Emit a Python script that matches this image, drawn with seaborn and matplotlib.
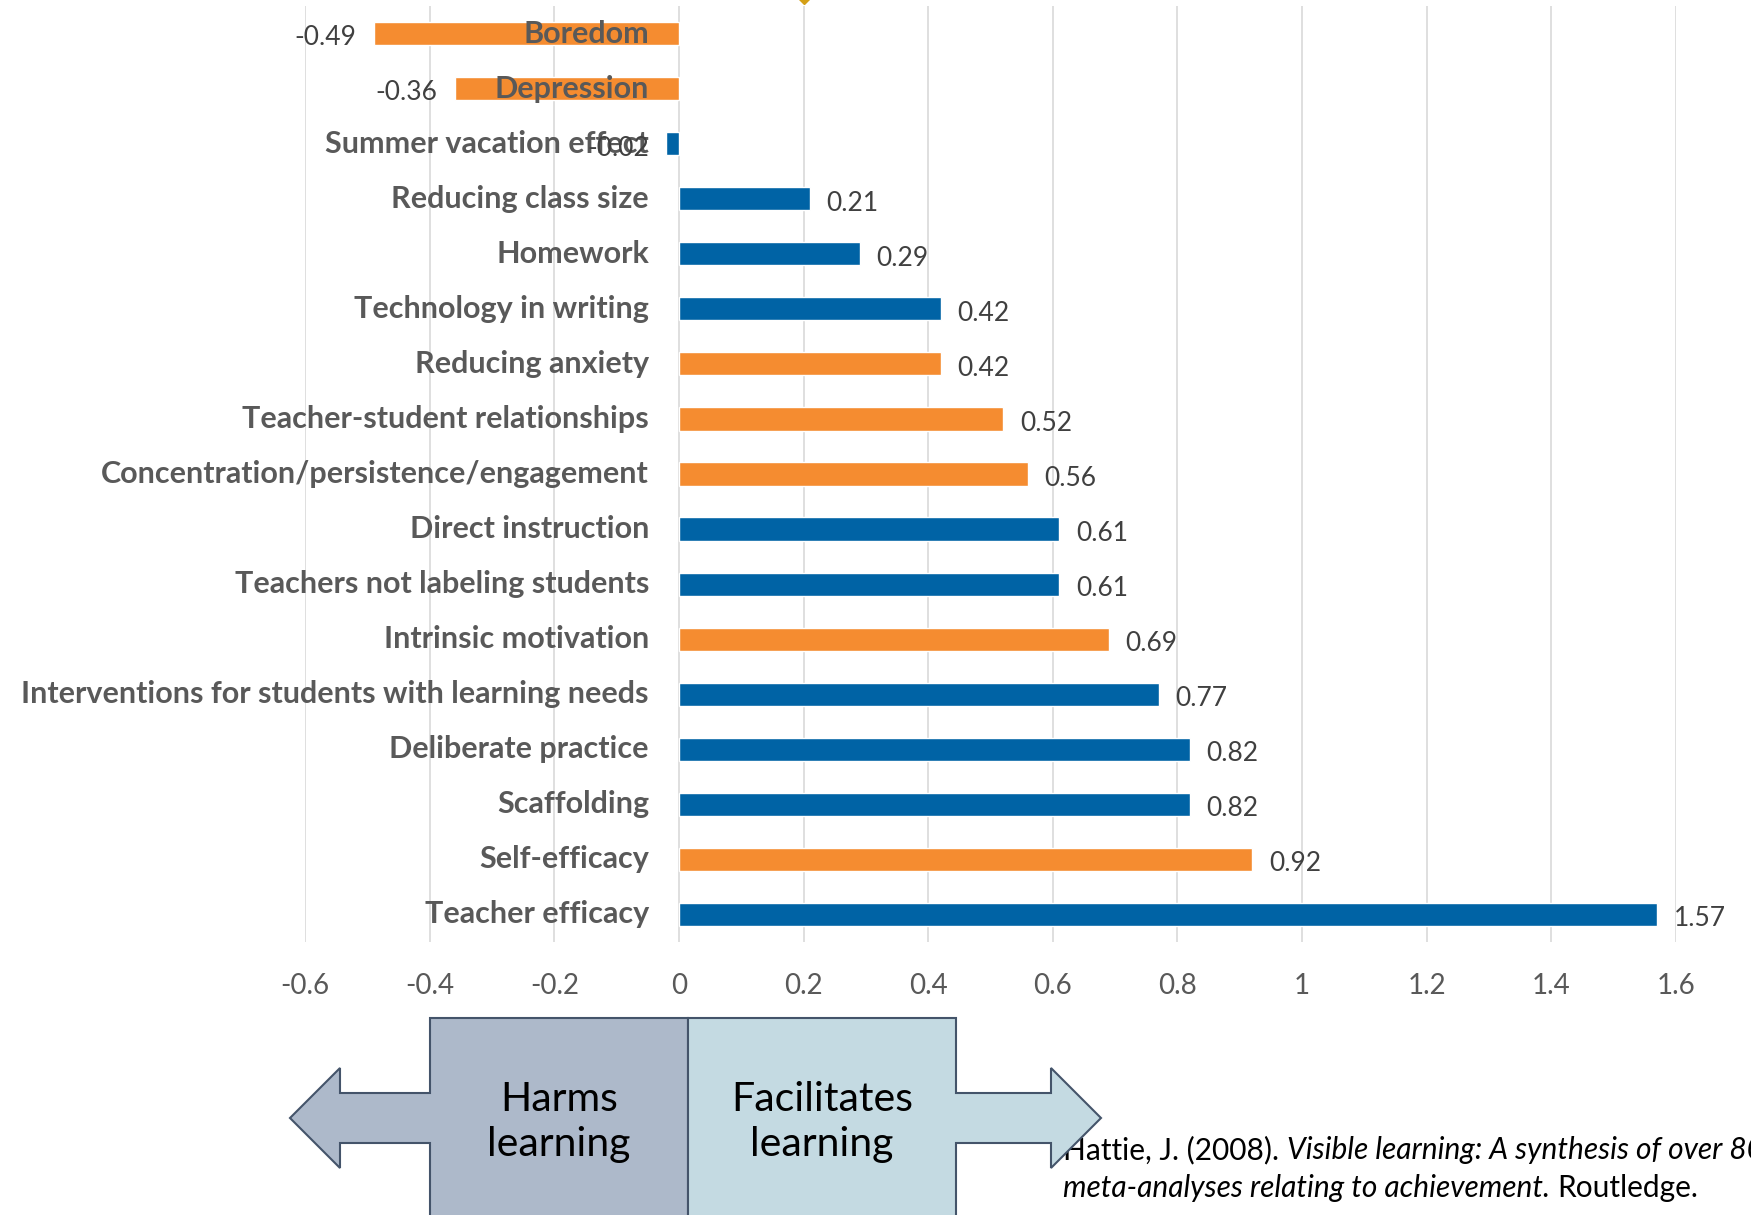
import matplotlib.pyplot as plt
import matplotlib.patches as mpatches
import pandas as pd
import seaborn as sns

factors = [
    "Boredom", "Depression", "Summer vacation effect", "Reducing class size",
    "Homework", "Technology in writing", "Reducing anxiety",
    "Teacher-student relationships", "Concentration/persistence/engagement",
    "Direct instruction", "Teachers not labeling students",
    "Intrinsic motivation", "Interventions for students with learning needs",
    "Deliberate practice", "Scaffolding", "Self-efficacy", "Teacher efficacy",
]
effect_sizes = [-0.49, -0.36, -0.02, 0.21, 0.29, 0.42, 0.42, 0.52, 0.56,
                0.61, 0.61, 0.69, 0.77, 0.82, 0.82, 0.92, 1.57]
groups = ["emotion", "emotion", "school", "school", "school", "school",
          "emotion", "emotion", "emotion", "school", "school", "emotion",
          "school", "school", "school", "emotion", "school"]
x_ticks = [-0.6, -0.4, -0.2, 0, 0.2, 0.4, 0.6, 0.8, 1, 1.2, 1.4, 1.6]
tick_labels = ["-0.6", "-0.4", "-0.2", "0", "0.2", "0.4", "0.6", "0.8",
               "1", "1.2", "1.4", "1.6"]
palette = {"emotion": "#F58C30", "school": "#0063A5"}

W, H = 1751, 1215


def main():
    sns.set_style("white")
    plt.rcParams["font.family"] = ["Lato", "DejaVu Sans"]

    df = pd.DataFrame({"factor": factors, "effect": effect_sizes, "group": groups})

    fig = plt.figure(figsize=(W / 100, H / 100), dpi=100)
    ax = fig.add_axes([305 / W, 1 - 942 / H, (1676 - 305) / W, 936 / H])

    sns.barplot(df, x="effect", y="factor", hue="group", palette=palette,
                order=factors, dodge=False, width=0.42, saturation=1,
                legend=False, ax=ax, zorder=2)

    ax.set_xlim(-0.6, 1.6)
    ax.set_ylim(16.5, -0.5)
    ax.set_xticks(x_ticks)
    ax.set_xticklabels(tick_labels, fontsize=20, color="#595959")
    ax.tick_params(axis="x", length=0, pad=22)
    ax.set_yticks([])
    ax.set_xlabel("")
    ax.set_ylabel("")
    ax.grid(axis="x", color="#D9D9D9", linewidth=1.2, zorder=0)
    ax.set_axisbelow(True)
    for s in ax.spines.values():
        s.set_visible(False)

    for i, row in df.iterrows():
        ax.text(-0.048, i, row["factor"], ha="right", va="center",
                fontsize=22, fontweight="bold", color="#595959", zorder=4)
        if row["effect"] >= 0:
            ax.text(row["effect"] + 0.027, i + 0.08, f"{row['effect']:.2f}",
                    ha="left", va="center", fontsize=19, color="#404040", zorder=4)
        else:
            ax.text(row["effect"] - 0.027, i + 0.08, f"{row['effect']:.2f}",
                    ha="right", va="center", fontsize=19, color="#404040", zorder=4)

    # gold marker peeking in at the top
    ax.plot([0.2], [-0.72], marker="D", markersize=10, color="#D4A017",
            clip_on=False, zorder=5)

    # overlay in pixel coordinates for the arrows and citation
    ov = fig.add_axes([0, 0, 1, 1], zorder=3)
    ov.set_xlim(0, W)
    ov.set_ylim(H, 0)
    ov.axis("off")
    ov.patch.set_alpha(0)

    fs = 21.5
    t1 = ov.text(1063, 1150, "Hattie, J. (2008). ", fontsize=fs, va="center",
                 ha="left", color="black", zorder=1)
    fig.canvas.draw()
    bb = t1.get_window_extent()
    ov.text(1063 + bb.width, 1150, "Visible learning: A synthesis of over 800",
            fontsize=fs, style="italic", va="center", ha="left", color="black",
            zorder=1)
    t2 = ov.text(1063, 1188, "meta-analyses relating to achievement. ",
                 fontsize=fs, style="italic", va="center", ha="left",
                 color="black", zorder=1)
    fig.canvas.draw()
    bb2 = t2.get_window_extent()
    ov.text(1063 + bb2.width, 1188, "Routledge.", fontsize=fs, va="center",
            ha="left", color="black", zorder=1)

    left = [(688, 1018), (430, 1018), (430, 1093), (340, 1093), (340, 1068),
            (290, 1118), (340, 1168), (340, 1143), (430, 1143), (430, 1240),
            (688, 1240)]
    right = [(688, 1018), (956, 1018), (956, 1093), (1051, 1093), (1051, 1068),
             (1101, 1118), (1051, 1168), (1051, 1143), (956, 1143), (956, 1240),
             (688, 1240)]
    ov.add_patch(mpatches.Polygon(left, closed=True, facecolor="#ADB9CA",
                                  edgecolor="#44546A", linewidth=1.5, zorder=2))
    ov.add_patch(mpatches.Polygon(right, closed=True, facecolor="#C4DAE2",
                                  edgecolor="#44546A", linewidth=1.5, zorder=2))
    ov.text(559, 1122, "Harms\nlearning", ha="center", va="center", fontsize=29.5,
            linespacing=1.25, color="black", zorder=3)
    ov.text(822, 1122, "Facilitates\nlearning", ha="center", va="center",
            fontsize=29.5, linespacing=1.25, color="black", zorder=3)

    fig.savefig("out.png", dpi=100)


if __name__ == "__main__":
    main()
